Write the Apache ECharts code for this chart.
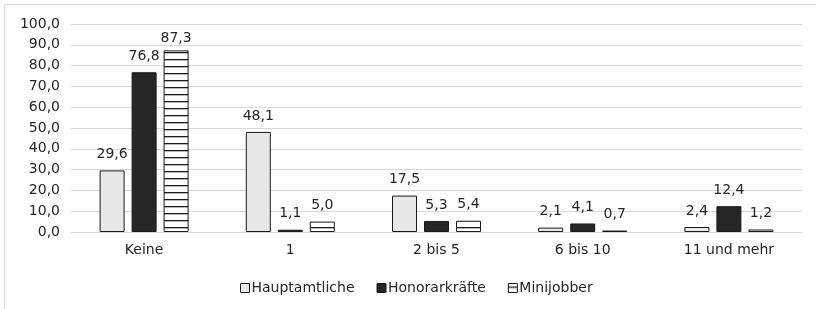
<!DOCTYPE html>
<html>
<head>
<meta charset="utf-8">
<script src="https://cdn.jsdelivr.net/npm/echarts@6/dist/echarts.min.js"></script>
<style>
  html, body { margin: 0; padding: 0; background: #fff; }
  #chart { width: 816px; height: 309px; }
</style>
</head>
<body>
<div id="chart"></div>
<script>
  const categories = ['Keine', '1', '2 bis 5', '6 bis 10', '11 und mehr']
  const hauptamtliche = [29.6, 48.1, 17.5, 2.1, 2.4]
  const honorarkraefte = [76.8, 1.1, 5.3, 4.1, 12.4]
  const minijobber = [87.3, 5.0, 5.4, 0.7, 1.2]
  const seriesNames = ['Hauptamtliche', 'Honorarkräfte', 'Minijobber']

  // horizontal stripes for Minijobber
  const stripe = document.createElement('canvas')
  stripe.width = 8
  stripe.height = 7
  const ctx = stripe.getContext('2d')
  ctx.fillStyle = '#ffffff'
  ctx.fillRect(0, 0, 8, 7)
  ctx.fillStyle = '#1a1a1a'
  ctx.fillRect(0, 3, 8, 1.3)

  const fmt = v => v.toFixed(1).replace('.', ',')
  const textColor = '#262626'
  const font = 'DejaVu Sans, sans-serif'
  const fontSize = 14

  const chart = echarts.init(document.getElementById('chart'))

  function barSeries(name, data, fill) {
    return {
      name: name,
      type: 'bar',
      // labels near the top of the plot get pushed down a little (like excel)
      data: data.map(v => v > 85 ? { value: v, label: { distance: 5 } } : v),
      barWidth: 25,
      barGap: '28%',
      itemStyle: { color: fill, borderColor: '#1a1a1a', borderWidth: 1 },
      label: {
        show: true,
        position: 'top',
        distance: 9,
        color: textColor,
        fontFamily: font,
        fontSize: fontSize,
        formatter: p => fmt(p.value)
      }
    }
  }

  chart.setOption({
    animation: false,
    graphic: [{
      type: 'rect',
      shape: { x: 4.5, y: 4.5, width: 830, height: 330 },
      style: { fill: 'none', stroke: '#d9d9d9', lineWidth: 1 },
      silent: true
    }],
    legend: {
      data: seriesNames,
      left: 235,
      top: 276,
      itemWidth: 9,
      itemHeight: 9,
      itemGap: 22,
      icon: 'rect',
      textStyle: { color: textColor, fontFamily: font, fontSize: fontSize, padding: [0, 0, 0, -3] },
      itemStyle: { borderColor: '#1a1a1a', borderWidth: 1 }
    },
    grid: {
      left: 71,
      right: 14,
      top: 24,
      bottom: 77
    },
    xAxis: {
      type: 'category',
      data: categories,
      axisLine: { lineStyle: { color: '#d9d9d9' } },
      axisTick: { show: false },
      axisLabel: { color: textColor, fontFamily: font, fontSize: fontSize, margin: 11 }
    },
    yAxis: {
      type: 'value',
      min: 0,
      max: 100,
      interval: 10,
      axisLine: { show: false },
      axisTick: { show: false },
      splitLine: { lineStyle: { color: '#d9d9d9' } },
      axisLabel: { color: textColor, fontFamily: font, fontSize: fontSize, margin: 11, formatter: v => fmt(v) }
    },
    series: [
      barSeries(seriesNames[0], hauptamtliche, '#e8e8e8'),
      barSeries(seriesNames[1], honorarkraefte, '#262626'),
      barSeries(seriesNames[2], minijobber, { image: stripe, repeat: 'repeat' })
    ]
  })
</script>
</body>
</html>
